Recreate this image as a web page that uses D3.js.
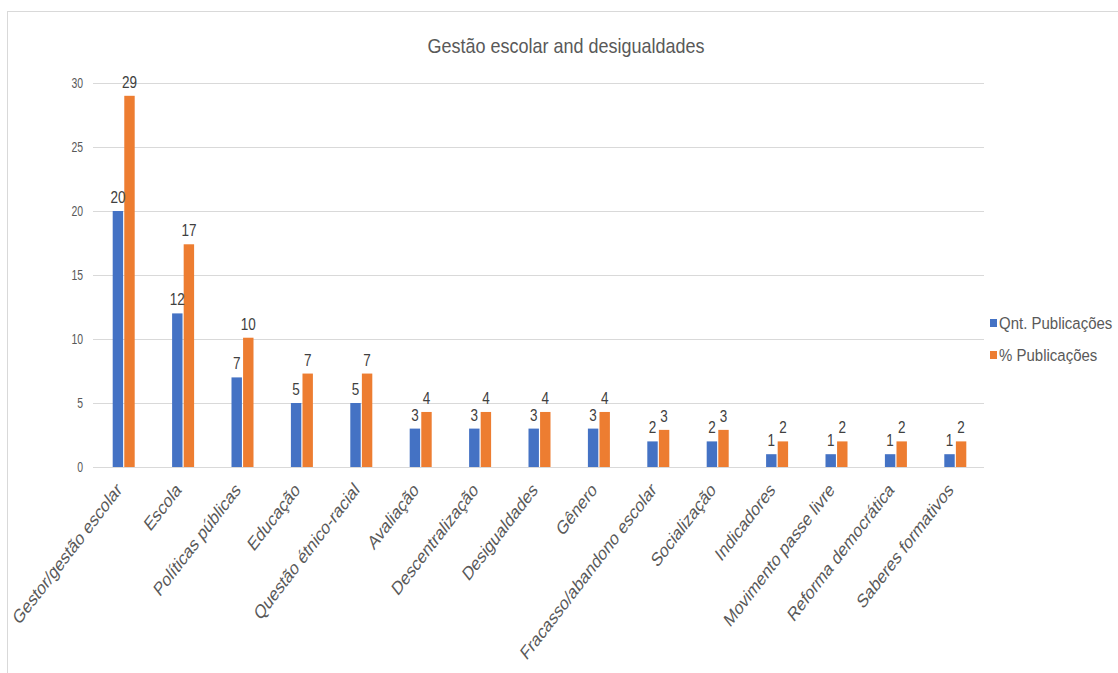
<!DOCTYPE html>
<html>
<head>
<meta charset="utf-8">
<script src="https://cdn.jsdelivr.net/npm/d3@7"></script>
<style>
  body { margin: 0; background: #fff; }
  svg text { font-family: "Liberation Sans", Arial, sans-serif; }
</style>
</head>
<body>
<div class="chart"></div>
<script>
var width = 1118;
var height = 673;
var margin = {top: 83, left: 93, right: 134, bottom: 206};

var categories = ["Gestor/gestão escolar", "Escola", "Políticas públicas", "Educação",
    "Questão étnico-racial", "Avaliação", "Descentralização", "Desigualdades", "Gênero",
    "Fracasso/abandono escolar", "Socialização", "Indicadores", "Movimento passe livre",
    "Reforma democrática", "Saberes formativos"];
var qntPublicacoes = [20, 12, 7, 5, 5, 3, 3, 3, 3, 2, 2, 1, 1, 1, 1];
var pctPublicacoes = [29, 17.4, 10.1, 7.3, 7.3, 4.3, 4.3, 4.3, 4.3, 2.9, 2.9, 2, 2, 2, 2];
var seriesNames = ["Qnt. Publicações", "% Publicações"];
var seriesColors = ["#4472C4", "#ED7D31"];
var yTicks = [0, 5, 10, 15, 20, 25, 30];

// the original picture is a bit stretched vertically
var stretch = 1.3;

var svg = d3.select(".chart")
    .append("svg")
    .attr("width", width)
    .attr("height", height);

// chart frame
svg.append("rect")
    .attr("x", 7.5).attr("y", 11.5)
    .attr("width", width + 20).attr("height", height + 20)
    .attr("fill", "none")
    .attr("stroke", "#d9d9d9");

var xScale = d3.scaleBand()
    .domain(categories)
    .range([margin.left, width - margin.right]);

var yScale = d3.scaleLinear()
    .domain([0, 30])
    .range([height - margin.bottom, margin.top]);

var xInner = d3.scaleBand()
    .domain([0, 1])
    .range([-11, 11])
    .paddingInner(0.1);

// gridlines + y labels
var yAxis = svg.append("g")
    .attr("transform", `translate(${margin.left},0)`)
    .call(d3.axisLeft(yScale).tickValues(yTicks)
        .tickSize(-(width - margin.left - margin.right))
        .tickPadding(10));
yAxis.select(".domain").remove();
yAxis.selectAll(".tick line").attr("stroke", "#d9d9d9");
yAxis.selectAll(".tick text")
    .attr("fill", "#595959")
    .style("font-size", "11px")
    .attr("x", 0).attr("dy", 0).attr("y", 0)
    .attr("transform", "translate(-10,4) scale(0.95," + stretch + ")");

// x labels
var xAxis = svg.append("g")
    .attr("transform", `translate(0,${height - margin.bottom})`)
    .call(d3.axisBottom(xScale).tickSize(0));
xAxis.select(".domain").remove();
xAxis.selectAll(".tick text")
    .attr("fill", "#595959")
    .style("font-size", "15px")
    .attr("text-anchor", "end")
    .attr("dy", 0)
    .attr("transform", "translate(0,24) scale(1," + stretch + ") rotate(-45)")
    .attr("x", 0).attr("y", 0);

var rows = categories.map(function(c, i) {
    return {cat: c, values: [qntPublicacoes[i], pctPublicacoes[i]]};
});

var groups = svg.selectAll("g.group")
    .data(rows)
    .enter()
    .append("g")
    .attr("class", "group")
    .attr("transform", function(d) {
        return `translate(${xScale(d.cat) + xScale.bandwidth() / 2 + 1},0)`;
    });

groups.selectAll("rect")
    .data(function(d) { return d.values; })
    .enter()
    .append("rect")
    .attr("x", function(d, i) { return xInner(i); })
    .attr("y", function(d) { return yScale(d); })
    .attr("width", xInner.bandwidth())
    .attr("height", function(d) { return yScale(0) - yScale(d); })
    .attr("fill", function(d, i) { return seriesColors[i]; });

groups.selectAll("text")
    .data(function(d) { return d.values; })
    .enter()
    .append("text")
    .attr("transform", function(d, i) {
        return `translate(${xInner(i) + xInner.bandwidth() / 2},${yScale(d) - 8}) scale(1,1.2)`;
    })
    .attr("text-anchor", "middle")
    .attr("fill", "#404040")
    .style("font-size", "13.5px")
    .text(function(d) { return d3.format(".0f")(d); });

// title
svg.append("text")
    .attr("transform", "translate(566,53) scale(1,1.15)")
    .attr("text-anchor", "middle")
    .attr("fill", "#595959")
    .style("font-size", "18px")
    .text("Gestão escolar and desigualdades");

// legend
var legend = svg.selectAll("g.legend")
    .data(seriesNames)
    .enter()
    .append("g")
    .attr("class", "legend")
    .attr("transform", function(d, i) { return `translate(990,${323 + i * 32})`; });

legend.append("rect")
    .attr("x", 0).attr("y", -4)
    .attr("width", 7).attr("height", 8)
    .attr("fill", function(d, i) { return seriesColors[i]; });

legend.append("text")
    .attr("transform", "translate(9,6) scale(1,1.15)")
    .attr("fill", "#595959")
    .style("font-size", "15px")
    .text(function(d) { return d; });
</script>
</body>
</html>
